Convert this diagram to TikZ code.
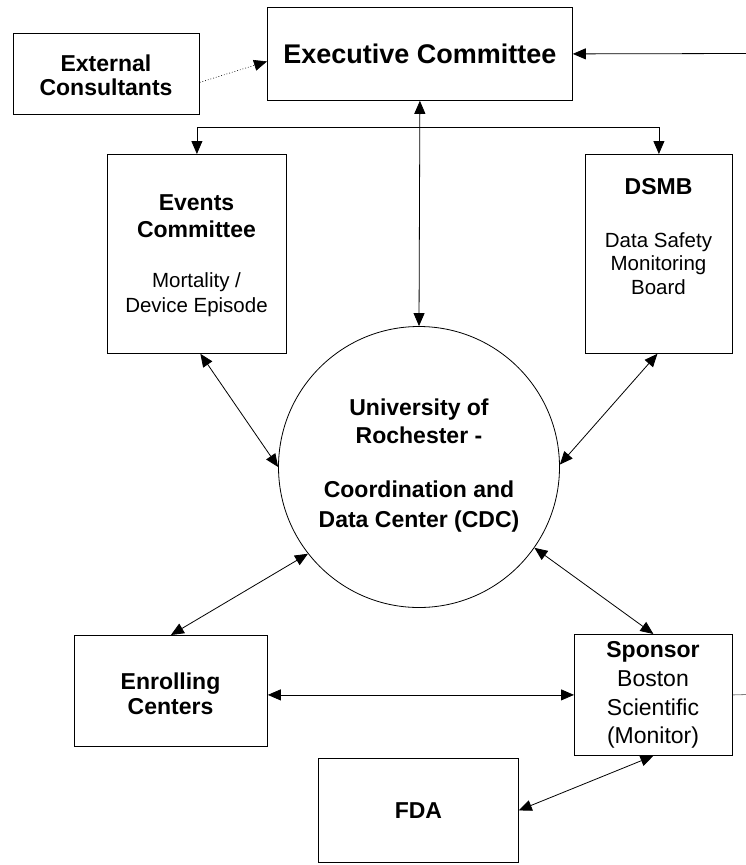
\documentclass[tikz,border=0pt]{standalone}
\usepackage{fontspec}
\setmainfont{Liberation Sans}
\usetikzlibrary{arrows.meta}
\begin{document}
\begin{tikzpicture}[x=1pt,y=-1pt,
  box/.style={draw, line width=0.8pt, inner sep=0pt, anchor=north west},
  bfbig/.style={font=\fontsize{27}{32}\selectfont\bfseries},
  bflab/.style={font=\fontsize{23}{#1}\selectfont\bfseries, align=center, inner sep=0pt},
  rglab/.style={font=\fontsize{20.5}{#1}\selectfont, align=center, inner sep=0pt},
  tip/.tip={Triangle[length=13pt,width=11pt]},
  arr/.style={-tip, line width=0.8pt},
  darr/.style={tip-tip, line width=0.8pt}]
\useasboundingbox (0,0) rectangle (746,865);

% boxes
\node[box, minimum width=186pt, minimum height=81pt] (ext) at (13,33) {};
\node[box, minimum width=305pt, minimum height=93pt] (exec) at (267,7) {};
\node[box, minimum width=179pt, minimum height=199pt] (events) at (107,154) {};
\node[box, minimum width=147pt, minimum height=199pt] (dsmb) at (585,154) {};
\node[box, minimum width=193pt, minimum height=111pt] (enroll) at (74,635) {};
\node[box, minimum width=158pt, minimum height=121pt] (sponsor) at (574,634) {};
\node[box, minimum width=200pt, minimum height=104pt] (fda) at (318,758) {};
\node[draw, circle, line width=0.8pt, minimum size=281pt, inner sep=0pt] (cdc) at (419,467) {};

% texts
\node[bfbig, inner sep=0pt] (exect) at (exec.center) {Executive Committee};
\node[bflab=24] (extt) at (106,75) {External\\Consultants};
\node[bflab=27] (evt1) at (196.5,216.5) {Events\\Committee};
\node[rglab=25] (evt2) at (196.5,294.5) {Mortality /\\Device Episode};
\node[bflab=27] (dsmbt1) at (658.5,187) {DSMB};
\node[rglab=23.5] (dsmbt2) at (658.5,263.5) {Data Safety\\Monitoring\\Board};
\node[bflab=28] (cdct1) at (419,421) {University of\\Rochester -};
\node[bflab=30] (cdct2) at (419,507) {Coordination and\\Data Center (CDC)};
\node[bflab=25] (enrollt) at (170.5,694) {Enrolling\\Centers};
\node[font=\fontsize{23}{28.7}\selectfont, align=center, inner sep=0pt] (sponsort) at (653,695)
  {\textbf{Sponsor}\\Boston\\Scientific\\(Monitor)};
\node[bflab=27] (fdat) at (fda.center) {FDA};

% connectors
\coordinate (j) at (419.5,127);
\coordinate (rin) at (746,53.5);
\coordinate (rout) at (746,694.5);
\draw[arr] (j) -| (events.north);
\draw[arr] (j) -| (dsmb.north);
\draw[darr] (exec.south) -- (cdc.north);
\draw[arr, dotted, line width=0.6pt] ([yshift=-8.5pt]ext.east) -- ([yshift=-7.5pt]exec.west);
\draw[arr] (rin) -- (exec.east);
\draw[line width=0.8pt, gray] (sponsor.east) -- (rout);
\draw[darr] ([xshift=3.5pt]events.south) -- (cdc.180);
\draw[darr] ([xshift=-1.5pt]dsmb.south) -- (cdc.1);
\draw[darr] (enroll.north) -- (cdc.218);
\draw[darr] (sponsor.north) -- (cdc.325);
\draw[darr] (enroll.east |- sponsor.west) -- (sponsor.west);
\draw[darr] (fda.east) -- (sponsor.south);
\end{tikzpicture}
\end{document}
